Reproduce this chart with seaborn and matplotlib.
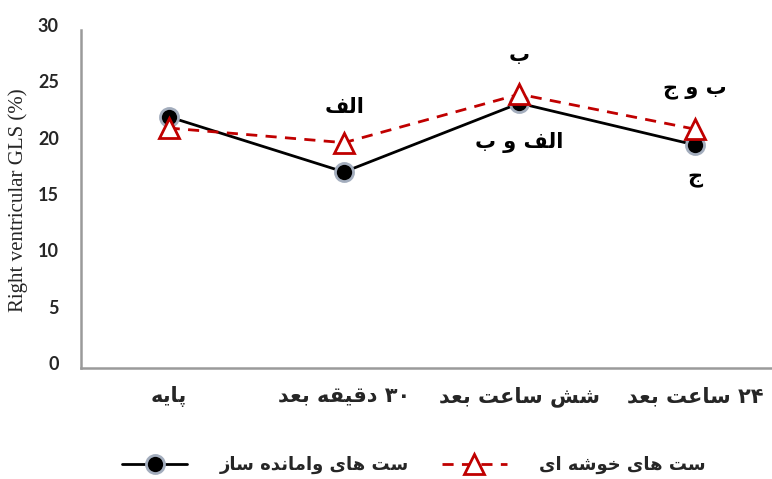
#!/usr/bin/env python3

import pandas as pd
import matplotlib
matplotlib.use("Agg")
import matplotlib.pyplot as plt
import matplotlib.transforms as mtransforms
import seaborn as sns

# ======================================================
# DATA (Persian text written as visual-order presentation forms,
# since matplotlib does no Arabic shaping)
# ======================================================
TIME_LABELS = [
    "\uFEEA\uFBFE\uFE8E\uFB58",                                   # پایه
    "\uFEAA\uFECC\uFE91 \uFEEA\uFED8\uFBFF\uFED7\uFEA9 \u06F3\u06F0",  # ۳۰ دقیقه بعد
    "\uFEAA\uFECC\uFE91 \uFE96\uFECB\uFE8E\uFEB3 \uFEB6\uFEB7",        # شش ساعت بعد
    "\uFEAA\uFECC\uFE91 \uFE96\uFECB\uFE8E\uFEB3 \u06F2\u06F4",        # ۲۴ ساعت بعد
]

SERIES_BLACK = "\uFEAF\uFE8E\uFEB3 \uFEE9\uFEAA\uFEE7\uFE8E\uFEE3\uFE8D\uFEED \uFBFC\uFE8E\uFEEB \uFE96\uFEB3"  # ست های وامانده ساز
SERIES_RED = "\uFBFC\uFE8D \uFEEA\uFEB7\uFEEE\uFEA7 \uFBFC\uFE8E\uFEEB \uFE96\uFEB3"  # ست های خوشه ای

BLACK_VALUES = [22.3, 17.4, 23.5, 19.8]
RED_VALUES = [21.3, 20.0, 24.3, 21.2]

# significance letters: (category index, y value, text)
LETTERS = [
    (1, 23.2, "\uFED2\uFEDF\uFE8D"),                      # الف
    (2, 27.8, "\uFE8F"),                                  # ب
    (2, 20.0, "\uFE8F \uFEED \uFED2\uFEDF\uFE8D"),        # الف و ب
    (3, 24.7, "\uFE9D \uFEED \uFE8F"),                    # ب و ج
    (3, 16.9, "\uFE9D"),                                  # ج
]

Y_TICKS = [0, 5, 10, 15, 20, 25, 30]

# ======================================================
# PLOT
# ======================================================
sns.set_style("white")
plt.rcParams["font.family"] = ["DejaVu Sans"]

df = pd.DataFrame({
    "Time": TIME_LABELS * 2,
    "GLS": BLACK_VALUES + RED_VALUES,
    "Group": [SERIES_BLACK] * 4 + [SERIES_RED] * 4,
})

fig = plt.figure(figsize=(7.72, 4.79), dpi=100)
ax = fig.add_axes([81 / 772, 111 / 479, 691 / 772, 338 / 479])

sns.lineplot(
    data=df[df["Group"] == SERIES_BLACK], x="Time", y="GLS", ax=ax,
    color="black", linewidth=2, marker="o", markersize=13,
    markerfacecolor="black", markeredgecolor="#a3adbd", markeredgewidth=2,
    label=SERIES_BLACK, sort=False,
)
sns.lineplot(
    data=df[df["Group"] == SERIES_RED], x="Time", y="GLS", ax=ax,
    color="#c00000", linewidth=2, dashes=(4, 3), marker="^", markersize=14,
    markerfacecolor="white", markeredgecolor="#c00000", markeredgewidth=2,
    label=SERIES_RED, sort=False,
)

for xi, yv, txt in LETTERS:
    ax.text(xi, yv, txt, ha="center", va="center", fontsize=15,
            fontweight="bold", color="black")

ax.set_xlim(-0.5, 3.44)
ax.set_ylim(0, 30)
ax.set_yticks(Y_TICKS)
ax.set_yticklabels([str(t) for t in Y_TICKS], family="Lato",
                   fontweight="bold", fontsize=13)
ax.tick_params(axis="y", length=0, pad=16)
ax.tick_params(axis="x", length=0, pad=13, labelsize=15)
for lbl in ax.get_xticklabels():
    lbl.set_fontweight("bold")

# y labels sit a few pixels above their gridline in the original
shift = mtransforms.ScaledTranslation(0, 5 / 100, fig.dpi_scale_trans)
for lbl in ax.get_yticklabels():
    lbl.set_transform(lbl.get_transform() + shift)

ax.set_xlabel("")
ax.set_ylabel("Right ventricular GLS (%)", family="Liberation Serif", fontsize=15)
ax.yaxis.set_label_coords(-0.077, 0.497)

for side in ["top", "right"]:
    ax.spines[side].set_visible(False)
for side in ["left", "bottom"]:
    ax.spines[side].set_color("#9a9a9a")
    ax.spines[side].set_linewidth(1.8)
ax.grid(False)

ax.get_legend().remove()
handles, labels = ax.get_legend_handles_labels()
fig.legend(handles, labels, loc="center", bbox_to_anchor=(414 / 772, 1 - 465 / 479),
           ncol=2, frameon=False, handlelength=3.6, handletextpad=1.8,
           columnspacing=1.8, prop={"weight": "bold", "size": 13})

fig.savefig("out.png", dpi=100)
